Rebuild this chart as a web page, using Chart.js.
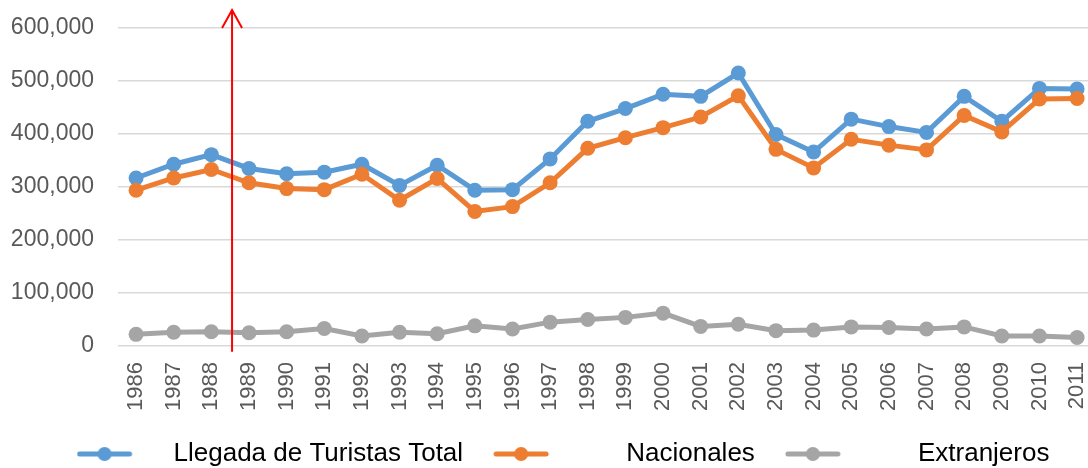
<!DOCTYPE html>
<html lang="es">

<head>
    <meta charset="UTF-8">
    <title>Llegada de Turistas 1986-2011</title>
    <script src="https://cdn.jsdelivr.net/npm/chart.js"></script>
    <style>
        html, body { margin: 0; padding: 0; background: #fff; overflow: hidden; }
        #wrap { width: 1088px; height: 468px; }
    </style>
</head>

<body>
    <div id="wrap"><canvas id="myChart" width="1088" height="468"></canvas></div>

    <script>
        // datos
        var years = [1986, 1987, 1988, 1989, 1990, 1991, 1992, 1993, 1994, 1995, 1996, 1997, 1998,
            1999, 2000, 2001, 2002, 2003, 2004, 2005, 2006, 2007, 2008, 2009, 2010, 2011];
        var total = [317000, 343000, 361000, 335000, 325000, 328000, 343000, 303000, 341000, 294000, 295000, 353000, 424000,
            448000, 475000, 471000, 515000, 399000, 366000, 428000, 414000, 403000, 471000, 424000, 486000, 485000];
        var nacionales = [294000, 317000, 333000, 308000, 297000, 295000, 324000, 275000, 316000, 254000, 263000, 308000, 373000,
            393000, 412000, 432000, 472000, 371000, 336000, 390000, 379000, 370000, 435000, 404000, 466000, 467000];
        var extranjeros = [22000, 26000, 27000, 25000, 27000, 33000, 19000, 26000, 23000, 38000, 32000, 45000, 50000,
            54000, 62000, 37000, 41000, 29000, 30000, 36000, 35000, 32000, 36000, 19000, 19000, 16000];
        var seriesNames = ['Llegada de Turistas Total', 'Nacionales', 'Extranjeros'];
        var yTicks = [0, 100000, 200000, 300000, 400000, 500000, 600000];

        // flecha roja (anotación entre 1988 y 1989)
        var arrowYear = 1988.55;
        var arrowFrom = -11000;
        var arrowTo = 634000;

        var colors = ['#5B9BD5', '#ED7D31', '#A5A5A5'];
        var FONT = "'Liberation Sans', Arial, sans-serif";

        function pts(vals) {
            return years.map(function (yr, i) { return { x: yr, y: vals[i] }; });
        }

        // icono de leyenda: línea con punto
        function legendIcon(color) {
            var c = document.createElement('canvas');
            c.width = 84;
            c.height = 18;
            var g = c.getContext('2d');
            g.strokeStyle = color;
            g.lineWidth = 5;
            g.lineCap = 'round';
            g.beginPath();
            g.moveTo(3, 9);
            g.lineTo(53, 9);
            g.stroke();
            g.fillStyle = color;
            g.beginPath();
            g.arc(28, 9, 7, 0, Math.PI * 2);
            g.fill();
            return c;
        }
        var icons = colors.map(legendIcon);
        var legendPad = ['', '     ', '     '];

        var arrowPlugin = {
            id: 'arrow',
            beforeDraw: function (chart) {
                // mover la leyenda un poco a la derecha, como en el original
                chart.legend.left = 38;
            },
            afterDraw: function (chart) {
                var x = chart.scales.x.getPixelForValue(arrowYear);
                var y0 = chart.scales.y.getPixelForValue(arrowFrom);
                var y1 = chart.scales.y.getPixelForValue(arrowTo);
                var ctx = chart.ctx;
                ctx.save();
                ctx.strokeStyle = '#FF0000';
                ctx.lineWidth = 2;
                ctx.beginPath();
                ctx.moveTo(x, y0);
                ctx.lineTo(x, y1);
                ctx.moveTo(x - 10, y1 + 18);
                ctx.lineTo(x, y1);
                ctx.lineTo(x + 10, y1 + 18);
                ctx.stroke();
                ctx.restore();
            }
        };

        function mkSet(i, vals, order) {
            return {
                label: seriesNames[i],
                data: pts(vals),
                borderColor: colors[i],
                backgroundColor: colors[i],
                pointBackgroundColor: colors[i],
                pointBorderWidth: 0,
                pointRadius: 7.5,
                pointHoverRadius: 7.5,
                borderWidth: 5,
                tension: 0,
                order: order,
                clip: false
            };
        }

        var chart01 = new Chart(document.getElementById('myChart'), {
            type: 'line',
            data: {
                datasets: [mkSet(0, total, 3), mkSet(1, nacionales, 2), mkSet(2, extranjeros, 1)]
            },
            options: {
                responsive: false,
                animation: false,
                events: [],
                layout: { autoPadding: false, padding: { top: 28, left: 0, right: 0, bottom: -9 } },
                plugins: {
                    tooltip: { enabled: false },
                    legend: {
                        position: 'bottom',
                        labels: {
                            usePointStyle: true,
                            pointStyleWidth: 84,
                            padding: 30,
                            color: '#000',
                            font: { family: FONT, size: 26 },
                            generateLabels: function (chart) {
                                return chart.data.datasets.map(function (ds, i) {
                                    return {
                                        text: legendPad[i] + ds.label,
                                        fillStyle: ds.borderColor,
                                        strokeStyle: ds.borderColor,
                                        lineWidth: 0,
                                        pointStyle: icons[i],
                                        fontColor: '#000',
                                        hidden: false,
                                        datasetIndex: i
                                    };
                                });
                            }
                        }
                    }
                },
                scales: {
                    x: {
                        type: 'linear',
                        min: 1985.52,
                        max: 2011.29,
                        border: { display: false },
                        grid: { display: false, drawTicks: false },
                        afterFit: function (s) {
                            s.height = 65;
                            s.paddingLeft = 0;
                            s.paddingRight = 0;
                        },
                        afterBuildTicks: function (s) {
                            s.ticks = years.map(function (yr) { return { value: yr }; });
                        },
                        ticks: {
                            autoSkip: false,
                            minRotation: 90,
                            maxRotation: 90,
                            padding: 16,
                            color: '#595959',
                            font: { family: FONT, size: 22 },
                            callback: function (v) { return String(v); }
                        }
                    },
                    y: {
                        min: 0,
                        max: 600000,
                        border: { display: false },
                        grid: { color: '#D9D9D9', lineWidth: 1.5, drawTicks: false },
                        afterFit: function (s) {
                            s.width = 118;
                            s.paddingTop = 0;
                            s.paddingBottom = 0;
                        },
                        afterBuildTicks: function (s) {
                            s.ticks = yTicks.map(function (v) { return { value: v }; });
                        },
                        ticks: {
                            padding: 24,
                            color: '#595959',
                            font: { family: FONT, size: 23 },
                            callback: function (v) { return v.toLocaleString('en-US'); }
                        }
                    }
                }
            },
            plugins: [arrowPlugin]
        });
    </script>
</body>

</html>
